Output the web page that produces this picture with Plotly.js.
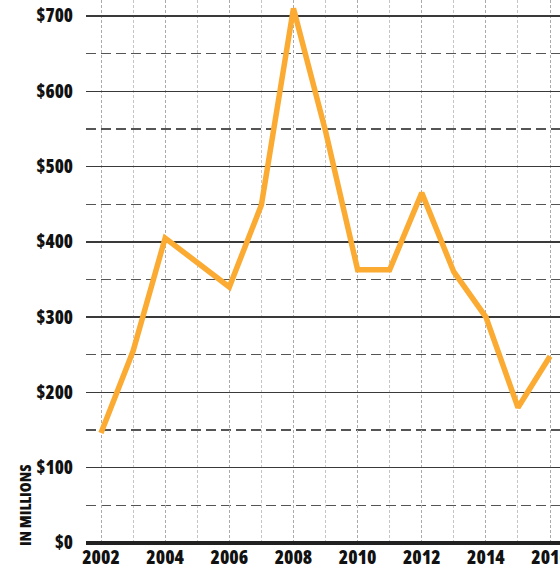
<!DOCTYPE html>
<html>
<head>
<meta charset="utf-8">
<script src="https://cdn.plot.ly/plotly-3.0.1.min.js"></script>
<style>
html, body { margin: 0; padding: 0; background: #fff; }
#chart { width: 560px; height: 569px; }
#chart svg text { font-stretch: 78% !important; }
</style>
</head>
<body>
<div id="chart"></div>
<script>
const years = [2002, 2003, 2004, 2005, 2006, 2007, 2008, 2009, 2010, 2011, 2012, 2013, 2014, 2015, 2016];
const valuesMillions = [146, 255, 405, 372, 340, 449, 710, 547, 363, 363, 465, 360, 300, 180, 248];
const xTickVals = [2002, 2004, 2006, 2008, 2010, 2012, 2014, 2016];
const xTickText = ['2002', '2004', '2006', '2008', '2010', '2012', '2014', '2016'];
const yTickVals = [0, 100, 200, 300, 400, 500, 600, 700];
const yTickText = ['$0', '$100', '$200', '$300', '$400', '$500', '$600', '$700'];
const yAxisLabel = 'IN MILLIONS';

const FONT = '"Open Sans", "DejaVu Sans", sans-serif';

const trace = {
  x: years,
  y: valuesMillions,
  type: 'scatter',
  mode: 'lines',
  line: { color: '#FBAA32', width: 5.5, shape: 'linear' },
  hoverinfo: 'skip'
};

const layout = {
  width: 560,
  height: 569,
  margin: { l: 86, r: 0, t: 0, b: 26 },
  paper_bgcolor: '#ffffff',
  plot_bgcolor: '#ffffff',
  showlegend: false,
  font: { family: FONT, color: '#111', size: 17 },
  xaxis: {
    range: [2001.532, 2016.31],
    tickmode: 'array',
    tickvals: xTickVals,
    ticktext: xTickText,
    ticklabeloverflow: 'allow',
    showgrid: true,
    gridcolor: '#aaaaaa',
    griddash: '3px,2px',
    gridwidth: 1,
    ticks: '',
    ticklabelstandoff: 1,
    tickfont: { family: FONT, size: 19, color: '#111', weight: 800 },
    minor: { dtick: 1, tick0: 2003, showgrid: true, gridcolor: '#c4c4c4', gridwidth: 1 },
    zeroline: false,
    showline: false,
    fixedrange: true
  },
  yaxis: {
    range: [0, 721.2],
    tickmode: 'array',
    tickvals: yTickVals,
    ticktext: yTickText,
    showgrid: true,
    gridcolor: '#3a3a3a',
    gridwidth: 1.5,
    ticks: '',
    ticklabelstandoff: 12,
    tickfont: { family: FONT, size: 18.5, color: '#111', weight: 800 },
    minor: { dtick: 50, tick0: 50, showgrid: true, gridcolor: '#555555', griddash: '10px,5px', gridwidth: 1.2 },
    zeroline: true,
    zerolinecolor: '#222222',
    zerolinewidth: 3.5,
    showline: false,
    fixedrange: true
  },
  annotations: [{
    text: yAxisLabel,
    xref: 'paper', yref: 'paper',
    x: -0.129, y: -0.03,
    xanchor: 'center', yanchor: 'bottom',
    textangle: -90,
    showarrow: false,
    font: { family: FONT, size: 16, color: '#111', weight: 800 }
  }]
};

Plotly.newPlot('chart', [trace], layout, { displayModeBar: false, staticPlot: true });
</script>
</body>
</html>
